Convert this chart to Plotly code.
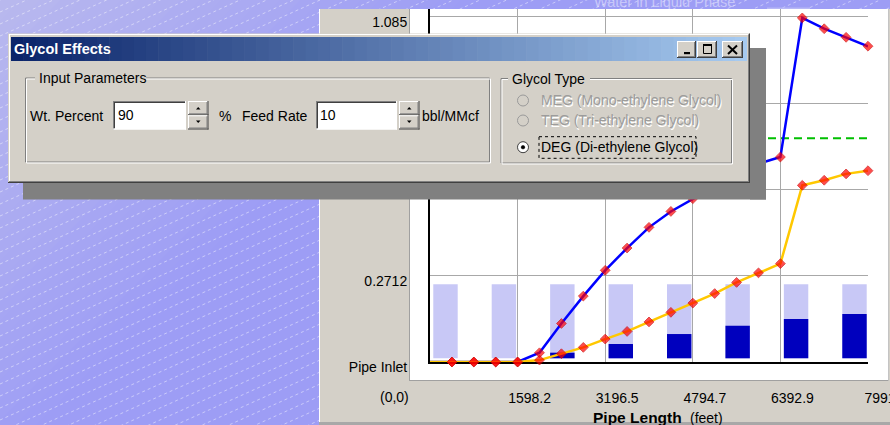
import plotly.graph_objects as go

# ---------------- data ----------------
pipe_length_ft = [0, 399.6, 799.1, 1198.7, 1598.2, 1997.8, 2397.3, 2796.9, 3196.5, 3596.0,
                  3995.6, 4395.1, 4794.7, 5194.2, 5593.8, 5993.3, 6392.9, 6792.4, 7192.0,
                  7591.5, 7991]
upper_curve = [0, 0, 0, 0, 0, 0.029, 0.121, 0.207, 0.288, 0.358, 0.423, 0.473, 0.513,
               0.551, 0.589, 0.623, 0.644, 1.081, 1.047, 1.020, 0.992]
lower_curve = [0, 0, 0, 0, 0, 0.006, 0.026, 0.046, 0.072, 0.096, 0.126, 0.156, 0.185,
               0.215, 0.250, 0.280, 0.309, 0.555, 0.571, 0.591, 0.601]
threshold_value = 0.703
bar_stations = [0, 1, 2, 3, 4, 5, 6, 7]
bar_capacity = [1, 1, 1, 1, 1, 1, 1, 1]
water_in_liquid = [0, 0, 0.076, 0.193, 0.328, 0.44, 0.53, 0.6]
x_tick_vals = [1598.2, 3196.5, 4794.7, 6392.9, 7991]
x_tick_text = ["1598.2", "3196.5", "4794.7", "6392.9", "7991"]
y_tick_vals = [0, 0.2712, 0.5425, 0.8137, 1.085]
y_tick_text = ["Pipe Inlet", "0.2712", "0.5425", "0.8137", "1.085"]
origin_label = "(0,0)"
x_title_main = "Pipe Length"
x_title_unit = "(feet)"
legend_label = "Water in Liquid Phase"
dialog_title = "Glycol Effects"
wt_percent = "90"
feed_rate = "10"
glycol_options = ["MEG (Mono-ethylene Glycol)", "TEG (Tri-ethylene Glycol)",
                  "DEG (Di-ethylene Glycol)"]
selected_option = 2

# ---------------- geometry helpers ----------------
FW, FH = 890, 425
L, R, T, B = 430, 22, 9, 63
PW = FW - L - R
PH = FH - T - B
FONT = "Liberation Sans"


def fx(p):
    return (p - L) / PW


def fy(p):
    return (T + PH - p) / PH


shapes = []
annots = []


def rect(x0, y0, x1, y1, fill, layer="above", line=None, lw=0, dash=None):
    d = dict(type="rect", xref="paper", yref="paper", x0=fx(x0), x1=fx(x1),
             y0=fy(y0), y1=fy(y1), fillcolor=fill, layer=layer,
             line=dict(width=lw, color=line or "rgba(0,0,0,0)"))
    if dash:
        d["line"]["dash"] = dash
    shapes.append(d)


def seg(x0, y0, x1, y1, color, width=1, layer="above", dash=None):
    d = dict(type="line", xref="paper", yref="paper", x0=fx(x0), x1=fx(x1),
             y0=fy(y0), y1=fy(y1), layer=layer, line=dict(color=color, width=width))
    if dash:
        d["line"]["dash"] = dash
    shapes.append(d)


def poly(pts, fill, layer="above", line=None, lw=0):
    path = "M " + " L ".join(f"{fx(a):.5f},{fy(b):.5f}" for a, b in pts) + " Z"
    shapes.append(dict(type="path", xref="paper", yref="paper", path=path,
                       fillcolor=fill, layer=layer,
                       line=dict(width=lw, color=line or "rgba(0,0,0,0)")))


def circle(cx, cy, r, fill, line, lw=1):
    shapes.append(dict(type="circle", xref="paper", yref="paper",
                       x0=fx(cx - r), x1=fx(cx + r), y0=fy(cy + r), y1=fy(cy - r),
                       fillcolor=fill, layer="above", line=dict(color=line, width=lw)))


def text(x, y, s, size=14, color="black", anchor="left", bold=False, yanchor="middle"):
    annots.append(dict(x=fx(x), y=fy(y), xref="paper", yref="paper", text=s,
                       showarrow=False, xanchor=anchor, yanchor=yanchor, borderpad=0,
                       font=dict(family=FONT, size=size, color=color,
                                 weight="bold" if bold else "normal")))


def sunken(x0, y0, x1, y1, fill="white"):
    rect(x0, y0, x1, y1, fill)
    seg(x0, y0 + 0.5, x1, y0 + 0.5, "#808080")
    seg(x0 + 0.5, y0, x0 + 0.5, y1, "#808080")
    seg(x0 + 1, y0 + 1.5, x1 - 1, y0 + 1.5, "#404040")
    seg(x0 + 1.5, y0 + 1, x0 + 1.5, y1 - 1, "#404040")
    seg(x0, y1 - 0.5, x1, y1 - 0.5, "#ffffff")
    seg(x1 - 0.5, y0, x1 - 0.5, y1, "#ffffff")


def raised(x0, y0, x1, y1):
    rect(x0, y0, x1, y1, "#d4d0c8")
    seg(x0, y0 + 0.5, x1 - 1, y0 + 0.5, "#ffffff")
    seg(x0 + 0.5, y0, x0 + 0.5, y1 - 1, "#ffffff")
    seg(x0, y1 - 0.5, x1, y1 - 0.5, "#404040")
    seg(x1 - 0.5, y0, x1 - 0.5, y1, "#404040")
    seg(x0 + 1, y1 - 1.5, x1 - 1, y1 - 1.5, "#808080")
    seg(x1 - 1.5, y0 + 1, x1 - 1.5, y1 - 1, "#808080")


def etched(x0, y0, x1, y1):
    rect(x0, y0, x1 - 1, y1 - 1, "rgba(0,0,0,0)", line="#808080", lw=1)
    rect(x0 + 1, y0 + 1, x1, y1, "rgba(0,0,0,0)", line="#ffffff", lw=1)


def lerp(c0, c1, t):
    return "rgb(" + ",".join(str(round(a + (b - a) * t)) for a, b in zip(c0, c1)) + ")"


# ---------------- background (below plot) ----------------
BG0, BG1 = (184, 184, 238), (157, 157, 245)
NB = 24
for k in range(NB):
    a0, a1 = k * 20, k * 20 + 21
    poly([(a0, 0), (a1, 0), (a1 - 900, 900), (a0 - 900, 900)],
         lerp(BG0, BG1, k / (NB - 1)), layer="below")
slope = 0.45
c = 0
while c < FH + slope * FW + 20:
    seg(0, c, FW, c - slope * FW, "rgba(255,255,255,0.45)", 1, layer="below", dash="dot")
    c += 12

# chart panel
rect(319, 9, 890, 425, "#d4d0c8", layer="below")
seg(319.5, 9, 319.5, 425, "#ffffff", 1, layer="below")
rect(319, 422, 890, 425, "#a8a8a8", layer="below")
rect(409, 9, 888, 380, "#ffffff", layer="below")
seg(409.5, 9, 409.5, 380.5, "#a0a0a0", 1, layer="below")
seg(409, 380.5, 888.5, 380.5, "#a0a0a0", 1, layer="below")
seg(888.5, 9, 888.5, 380.5, "#c4c4c4", 1, layer="below")
# legend remnant above the chart
rect(767, 7.5, 810, 9, "#b8b8f6", layer="below")
text(664, 2, legend_label, size=14.5, color="rgba(255,255,255,0.45)", anchor="center")

# chart label annotations
text(410, 396.7, origin_label, anchor="right")
text(591.5, 417.5, x_title_main, size=15.5, bold=True)
text(689, 417.5, x_title_unit, size=14)

# ---------------- dialog (above plot) ----------------
rect(23, 183, 766, 199.5, "#808080")
rect(750, 48, 766, 199.5, "#808080")
rect(8, 33.5, 750, 183, "#d4d0c8")
seg(9, 34.5, 748, 34.5, "#ffffff")
seg(9.5, 34, 9.5, 182, "#ffffff")
seg(8, 182.5, 750, 182.5, "#404040")
seg(749.5, 33.5, 749.5, 183, "#404040")
seg(9, 181.5, 749, 181.5, "#808080")
seg(748.5, 34.5, 748.5, 182, "#808080")

TB0, TB1 = (10, 36, 106), (166, 202, 240)
NT = 60
tx0, tx1 = 11, 747
for k in range(NT):
    xa = tx0 + (tx1 - tx0) * k / NT
    xb = tx0 + (tx1 - tx0) * (k + 1) / NT + 0.6
    rect(xa, 37, min(xb, tx1), 61, lerp(TB0, TB1, k / (NT - 1)))
text(13, 49, dialog_title, size=14.5, color="white", bold=True)

# caption buttons
raised(677, 41, 696, 58)
raised(697, 41, 717, 58)
raised(722, 41, 743, 58)
rect(684, 52, 690, 54.2, "black")
rect(703.5, 44.5, 711.5, 53.5, "rgba(0,0,0,0)", line="black", lw=1)
rect(703, 44, 712, 46, "black")
seg(728, 45.5, 737, 54, "black", 2)
seg(737, 45.5, 728, 54, "black", 2)

# group: input parameters
etched(25.5, 78, 490.5, 163)
rect(35, 72, 146, 84, "#d4d0c8")
text(37.5, 78.5, "Input Parameters")
text(29, 115.7, "Wt. Percent")
sunken(113, 101, 186, 129.5)
text(116.5, 115.2, wt_percent)
raised(188, 101, 208.5, 115.3)
raised(188, 115.3, 208.5, 129.5)
poly([(196, 109.5), (200.5, 109.5), (198.2, 107)], "black")
poly([(196, 120.5), (200.5, 120.5), (198.2, 123)], "black")
text(217.5, 115.7, "%")
text(240.5, 115.7, "Feed Rate")
sunken(316, 101, 397, 129.5)
text(319, 115.2, feed_rate)
raised(399, 101, 419.5, 115.3)
raised(399, 115.3, 419.5, 129.5)
poly([(407, 109.5), (411.5, 109.5), (409.2, 107)], "black")
poly([(407, 120.5), (411.5, 120.5), (409.2, 123)], "black")
text(420.5, 115.7, "bbl/MMcf")

# group: glycol type
etched(501, 78.5, 732.5, 164)
rect(508, 72, 590, 84, "#d4d0c8")
text(510.5, 79, "Glycol Type")
radio_y = [100.5, 120.5, 147.2]
for i, (label, ry) in enumerate(zip(glycol_options, radio_y)):
    if i == selected_option:
        circle(523, ry, 5.5, "white", "#404040", 1)
        circle(523, ry, 1.8, "black", "black", 0.5)
        text(540, ry, label, color="black")
        rect(539, 136.7, 696, 158.3, "rgba(0,0,0,0)", line="black", lw=1, dash="dot")
    else:
        circle(523, ry, 5.5, "#d4d0c8", "#9a9a9a", 1)
        text(541, ry + 1, label, color="white")
        text(540, ry, label, color="#9c9c9c")

# ---------------- traces ----------------
marker_sizes = [0] + [7.5] * (len(pipe_length_ft) - 1)
fig = go.Figure()
fig.add_trace(go.Bar(x=bar_stations, y=bar_capacity, width=0.418, xaxis="x", yaxis="y",
                     marker=dict(color="#c8c8f6", line=dict(width=0)), hoverinfo="skip"))
fig.add_trace(go.Bar(x=bar_stations, y=water_in_liquid, width=0.418, xaxis="x", yaxis="y",
                     name=legend_label,
                     marker=dict(color="#0000be", line=dict(width=0))))
fig.add_trace(go.Scatter(x=[pipe_length_ft[0], pipe_length_ft[-1]],
                         y=[threshold_value, threshold_value], xaxis="x2", yaxis="y2",
                         mode="lines", line=dict(color="#00c000", width=2, dash="8px,5px")))
red_marker = dict(symbol="diamond", size=marker_sizes, color="#ff0000",
                  line=dict(color="#d00000", width=1))
fig.add_trace(go.Scatter(x=pipe_length_ft, y=upper_curve, xaxis="x2", yaxis="y2",
                         mode="lines+markers", cliponaxis=False,
                         line=dict(color="#0000ff", width=2.5), marker=red_marker))
fig.add_trace(go.Scatter(x=pipe_length_ft, y=lower_curve, xaxis="x2", yaxis="y2",
                         mode="lines+markers", cliponaxis=False,
                         line=dict(color="#ffc800", width=2.5), marker=red_marker))

axis_font = dict(family=FONT, size=14, color="black")
fig.update_layout(
    width=FW, height=FH,
    margin=dict(l=L, r=R, t=T, b=B, pad=0),
    paper_bgcolor="rgb(157,157,245)",
    plot_bgcolor="rgba(0,0,0,0)",
    showlegend=False,
    barmode="overlay",
    xaxis=dict(range=[-0.265, 7.231], visible=False, fixedrange=True),
    yaxis=dict(range=[-0.05, 4.72], visible=False, fixedrange=True),
    xaxis2=dict(overlaying="x", anchor="y2", range=[0, 7991], tickmode="array",
                tickvals=x_tick_vals, ticktext=x_tick_text, showgrid=True,
                gridcolor="#a8a8a8", gridwidth=1, zeroline=False, showline=True,
                linecolor="black", linewidth=2, ticks="", layer="below traces",
                ticklabelshift=12, ticklabelstandoff=22, ticklabeloverflow="allow",
                tickfont=axis_font, automargin=False, fixedrange=True),
    yaxis2=dict(overlaying="y", anchor="x2", range=[0, 1.109], tickmode="array",
                tickvals=y_tick_vals, ticktext=y_tick_text, showgrid=True,
                gridcolor="#a8a8a8", gridwidth=1, zeroline=False, showline=True,
                linecolor="black", linewidth=2, ticks="", layer="below traces",
                ticklabelshift=5, ticklabelstandoff=18, ticklabeloverflow="allow",
                tickfont=axis_font, automargin=False, fixedrange=True),
    shapes=shapes,
    annotations=annots,
)

fig.write_html(
    "out.html",
    config={"displayModeBar": False},
    post_script="document.body.style.margin='0';document.body.style.overflow='hidden';",
)
